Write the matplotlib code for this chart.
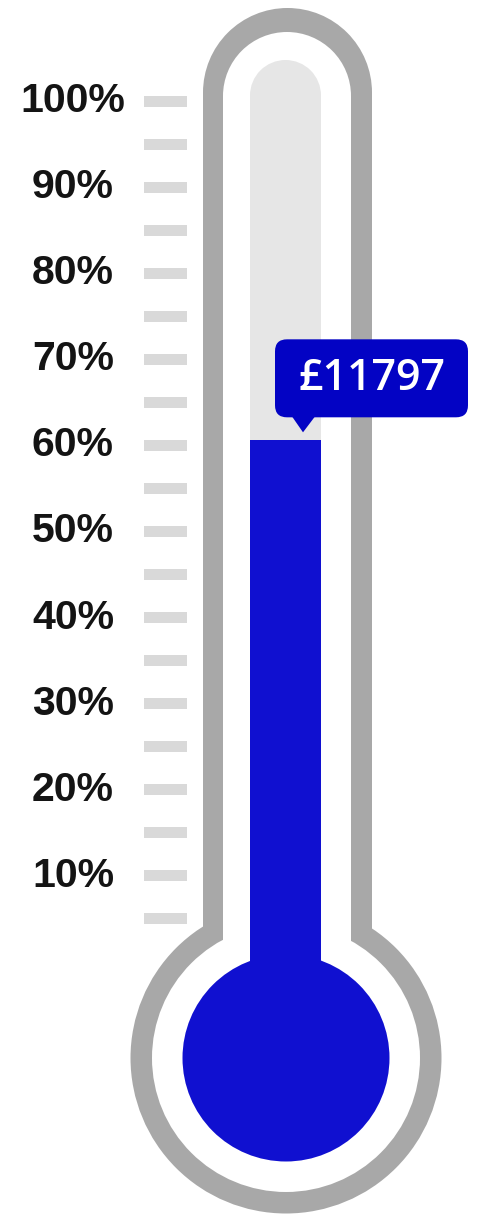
import matplotlib
matplotlib.use("Agg")
import matplotlib.pyplot as plt
from matplotlib.patches import Ellipse, Rectangle, FancyBboxPatch, Polygon

# data
raised = 11797
goal = 19470
pct_value = 100.0 * raised / goal          # ~60.6 %
tick_pcts = list(range(5, 101, 5))
label_pcts = list(range(10, 101, 10))
labels = [f"{p}%" for p in label_pcts]
value_text = f"\u00a3{raised}"

W, H = 478, 1215
PX_PER_PCT = 8.61      # vertical pixels per percent
ZERO_PX = 962          # pixel row of 0 %

GREY = "#a8a8a8"
TRACK = "#e6e6e6"
TICK = "#d9d9d9"
BLUE = "#1010d0"
TIP = "#0303c4"


def pct(py):
    """pixel row -> percent on the y axis"""
    return (ZERO_PX - py) / PX_PER_PCT


def circle(ax, cx, cy_px, r, color, z):
    ax.add_patch(Ellipse((cx, pct(cy_px)), 2 * r, 2 * r / PX_PER_PCT,
                         color=color, lw=0, zorder=z))


def tube(ax, x0, x1, top_px, bot_px, color, z):
    r = (x1 - x0) / 2
    cy = top_px + r
    ax.add_patch(Rectangle((x0, pct(bot_px)), x1 - x0, pct(cy) - pct(bot_px),
                           color=color, lw=0, zorder=z))
    circle(ax, (x0 + x1) / 2, cy, r, color, z)


fig = plt.figure(figsize=(W / 100, H / 100), dpi=100)
ax = fig.add_axes([0, 0, 1, 1])
ax.set_xlim(0, W)
ax.set_ylim(pct(H), pct(0))
ax.axis("off")

# glass outline
circle(ax, 286, 1058, 155.5, GREY, 1)
tube(ax, 203, 372, 8, 1000, GREY, 1)
circle(ax, 286, 1058, 134, "white", 2)
tube(ax, 223, 351, 32, 1000, "white", 2)
# empty track
tube(ax, 250, 321, 60, 1000, TRACK, 3)

# mercury
base = pct(1000)
ax.bar(285.5, pct_value - base, bottom=base, width=71, color=BLUE, lw=0, zorder=4)
circle(ax, 286, 1058, 103.5, BLUE, 5)

# scale ticks and labels
ax.barh(tick_pcts, 43, left=144, height=11 / PX_PER_PCT, color=TICK, lw=0, zorder=2)
for p, lab in zip(label_pcts, labels):
    ax.text(73, p, lab, ha="center", va="center", fontsize=29.5,
            fontweight="bold", family="Liberation Sans", color="#141414")

# value tooltip
tip_y = pct_value + 8 / PX_PER_PCT
box_bot = tip_y + 15 / PX_PER_PCT
box_h = 78 / PX_PER_PCT
ax.add_patch(FancyBboxPatch((275, box_bot), 193, box_h,
                            boxstyle="round,pad=0,rounding_size=12",
                            mutation_aspect=1 / PX_PER_PCT,
                            color=TIP, lw=0, zorder=6))
ax.add_patch(Polygon([(292, box_bot + 0.1), (315, box_bot + 0.1), (303, tip_y)],
                     closed=True, color=TIP, lw=0, zorder=6))
ax.text(372, box_bot + box_h / 2, value_text, ha="center", va="center",
        fontsize=31, fontweight="semibold", family="Open Sans", color="white",
        zorder=7)

fig.savefig("out.png", dpi=100)
